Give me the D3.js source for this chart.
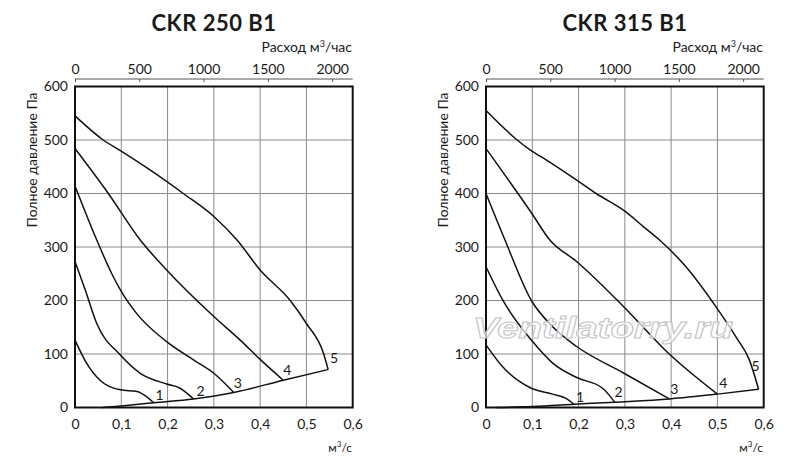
<!DOCTYPE html>
<html>
<head>
<meta charset="utf-8">
<script src="https://cdn.jsdelivr.net/npm/d3@7"></script>
<style>
  body { margin: 0; background: #fff; }
  text { font-family: Lato, "Open Sans", sans-serif; fill: #1a1a1a; }
</style>
</head>
<body>
<svg id="chart" width="800" height="462"></svg>
<script>
// axis ticks
const flowTicks = [0, 0.1, 0.2, 0.3, 0.4, 0.5, 0.6];      // м3/с
const hourTicks = [0, 500, 1000, 1500, 2000];              // м3/час
const pressTicks = [0, 100, 200, 300, 400, 500, 600];      // Па

// CKR 250 B1 fan curves [м3/с, Па]
const ckr250_1 = [[0,126],[0.025,83],[0.054,51],[0.098,33],[0.134,30],[0.155,20],[0.17,9]];
const ckr250_2 = [[0,273],[0.022,220],[0.047,157],[0.098,98],[0.141,64],[0.198,44],[0.227,36],[0.256,16]];
const ckr250_3 = [[0,414],[0.047,313],[0.079,251],[0.098,220],[0.133,176],[0.198,123],[0.256,89],[0.3,64],[0.343,28]];
const ckr250_4 = [[0,484],[0.072,400],[0.141,313],[0.198,257],[0.3,170],[0.357,126],[0.4,90],[0.45,51]];
const ckr250_5 = [[0,545],[0.061,500],[0.098,480],[0.162,444],[0.234,400],[0.3,357],[0.35,313],[0.4,257],[0.465,200],[0.5,157],[0.537,101],[0.547,71]];
const ckr250_sys = [[0.06,0],[0.1,3],[0.17,9],[0.256,16],[0.343,28],[0.45,51],[0.547,71]];

// CKR 315 B1 fan curves
const ckr315_1 = [[0,117],[0.036,76],[0.098,36],[0.144,25],[0.173,17],[0.19,6]];
const ckr315_2 = [[0,263],[0.036,201],[0.098,126],[0.144,83],[0.196,56],[0.252,36],[0.278,10]];
const ckr315_3 = [[0,400],[0.041,313],[0.098,200],[0.144,151],[0.196,114],[0.298,64],[0.396,16]];
const ckr315_4 = [[0,484],[0.098,364],[0.138,313],[0.197,272],[0.298,188],[0.396,100],[0.5,25]];
const ckr315_5 = [[0,555],[0.066,501],[0.096,481],[0.13,463],[0.196,425],[0.238,400],[0.3,367],[0.34,338],[0.375,313],[0.432,263],[0.497,188],[0.54,132],[0.569,89],[0.589,34]];
const ckr315_sys = [[0.02,0],[0.1,2],[0.19,6],[0.278,10],[0.396,16],[0.5,25],[0.589,34]];

const curveNames = ["1", "2", "3", "4", "5"];

const svg = d3.select("#chart");

function drawChart(ox, title, curves, system, labelOffsets) {
  const g = svg.append("g").attr("transform", `translate(${ox},0)`);
  const x = d3.scaleLinear().domain([0, 0.6]).range([75, 352.7]);
  const xh = d3.scaleLinear().domain([0, 2160]).range([75, 352.7]);
  const y = d3.scaleLinear().domain([0, 600]).range([407.5, 86.5]);

  // grid
  g.append("g").selectAll("line")
    .data(flowTicks.slice(1, -1))
    .join("line")
    .attr("x1", d => x(d)).attr("x2", d => x(d))
    .attr("y1", y(0)).attr("y2", y(600))
    .attr("stroke", "#8a8a8a").attr("stroke-width", 1);
  g.append("g").selectAll("line")
    .data(pressTicks.slice(1, -1))
    .join("line")
    .attr("y1", d => y(d)).attr("y2", d => y(d))
    .attr("x1", x(0)).attr("x2", x(0.6))
    .attr("stroke", "#8a8a8a").attr("stroke-width", 1);

  // frame
  g.append("rect")
    .attr("x", x(0)).attr("y", y(600))
    .attr("width", x(0.6) - x(0)).attr("height", y(0) - y(600))
    .attr("fill", "none").attr("stroke", "#111").attr("stroke-width", 2);

  // bottom axis
  const bottom = g.append("g").attr("transform", `translate(0,${y(0)})`)
    .call(d3.axisBottom(x).tickValues(flowTicks).tickSize(0).tickPadding(12)
      .tickFormat(d => d === 0 ? "0" : String(d).replace(".", ",")));
  bottom.select(".domain").remove();
  bottom.selectAll("text").attr("font-size", 14);

  // left axis
  const left = g.append("g").attr("transform", `translate(${x(0)},0)`)
    .call(d3.axisLeft(y).tickValues(pressTicks).tickSize(0).tickPadding(7));
  left.select(".domain").remove();
  left.selectAll("text").attr("font-size", 14);

  // top axis, м3/час
  const top = g.append("g").attr("transform", "translate(0,79)")
    .call(d3.axisBottom(xh).tickValues(hourTicks).tickSize(3).tickFormat(d3.format("d")));
  top.select(".domain").attr("d", `M${x(0)},0H${x(0.6)}`).attr("stroke", "#555");
  top.selectAll(".tick line").attr("stroke", "#555");
  top.selectAll("text").attr("y", -5).attr("dy", 0).attr("font-size", 14);

  // titles
  g.append("text").attr("x", 214).attr("y", 31).attr("text-anchor", "middle")
    .attr("font-size", 22).attr("font-weight", "bold").attr("letter-spacing", 0.5).text(title);
  g.append("text").attr("x", 352).attr("y", 52).attr("text-anchor", "end")
    .attr("font-size", 14)
    .html('Расход м<tspan dy="-5" font-size="9">3</tspan><tspan dy="5">/час</tspan>');
  g.append("text").attr("x", 352).attr("y", 452).attr("text-anchor", "end")
    .attr("font-size", 12)
    .html('м<tspan dy="-5" font-size="8">3</tspan><tspan dy="5">/с</tspan>');
  g.append("text")
    .attr("transform", "translate(37,160) rotate(-90)")
    .attr("text-anchor", "middle").attr("font-size", 14)
    .text("Полное давление Па");

  // curves
  const line = d3.line().x(d => x(d[0])).y(d => y(d[1])).curve(d3.curveMonotoneX);
  g.append("g").selectAll("path")
    .data(curves.concat([system]))
    .join("path")
    .attr("d", line)
    .attr("fill", "none").attr("stroke", "#111").attr("stroke-width", 1.5)
    .attr("stroke-linejoin", "round");

  // curve numbers
  g.append("g").selectAll("text")
    .data(curves)
    .join("text")
    .attr("x", (d, i) => x(d[d.length - 1][0]) + labelOffsets[i][0])
    .attr("y", (d, i) => y(d[d.length - 1][1]) + labelOffsets[i][1])
    .attr("text-anchor", "middle").attr("font-size", 14)
    .text((d, i) => curveNames[i]);
}

drawChart(0, "CKR 250 B1",
  [ckr250_1, ckr250_2, ckr250_3, ckr250_4, ckr250_5], ckr250_sys,
  [[6, -3], [7, -3], [4, -5], [4, -5], [6, -7]]);
drawChart(411, "CKR 315 B1",
  [ckr315_1, ckr315_2, ckr315_3, ckr315_4, ckr315_5], ckr315_sys,
  [[6, -2], [4, -5], [5, -5], [6, -6], [-3, -18]]);

// watermark (style so the css text fill does not win)
svg.append("text")
  .attr("x", 603).attr("y", 338).attr("text-anchor", "middle")
  .attr("font-size", 30)
  .attr("textLength", 260).attr("lengthAdjust", "spacingAndGlyphs")
  .style("font-family", "'Liberation Sans', Arial, sans-serif")
  .style("font-style", "italic").style("font-weight", "bold")
  .style("fill", "#ffffff").style("fill-opacity", 0.7)
  .style("stroke", "#c4c4c4").style("stroke-width", 1)
  .text("Ventilatorry.ru");
</script>
</body>
</html>
